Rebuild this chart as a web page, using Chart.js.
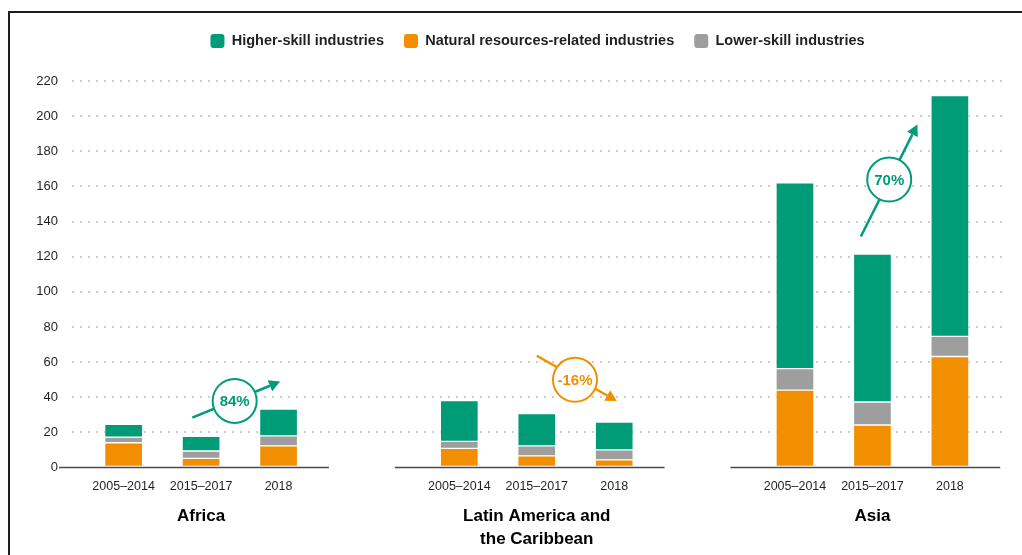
<!DOCTYPE html>
<html>
<head>
<meta charset="utf-8">
<script src="https://cdn.jsdelivr.net/npm/chart.js"></script>
<style>
  html, body { margin: 0; padding: 0; background: #fff; }
  #wrap { position: relative; width: 1022px; height: 555px; overflow: hidden; }
  #frame { position: absolute; left: 8px; top: 11px; right: -20px; bottom: -20px;
           border-top: 2px solid #1e1e1e; border-left: 2px solid #1e1e1e; }
  #wrap canvas { position: absolute; left: 0; top: 0; }
</style>
</head>
<body>
<div id="wrap">
  <div id="frame"></div>
  <canvas id="skillChart"></canvas>
</div>
<script>
const periods = ['2005–2014', '2015–2017', '2018'];
const regions = ['Africa', ['Latin America and', 'the Caribbean'], 'Asia'];

// one value per bar: Africa x3, Latin America x3, Asia x3
const naturalResources = [14.1, 5.2, 12.3, 10.9, 6.6, 4.3, 44.0, 24.2, 63.2];
const lowerSkill = [3.1, 4.2, 5.7, 4.0, 5.7, 5.7, 12.3, 13.1, 11.4];
const higherSkill = [7.4, 8.4, 15.2, 23.2, 18.4, 15.9, 105.7, 84.2, 137.1];

const yMax = 220;
const yStep = 20;

// change between 2015–2017 and 2018, one per region
const changeLabels = ['84%', '-16%', '70%'];

const GREEN = '#009b77';
const ORANGE = '#f18f00';
const GREY = '#9e9e9e';
const TEXT = '#231f20';
const FONT = '"Liberation Sans", Arial, sans-serif';

// x positions: 3 slots per bar, 13 per region
const barStep = 3;
const groupStep = 13;
const barX = [];
regions.forEach((r, g) => periods.forEach((p, i) => barX.push(g * groupStep + i * barStep)));
const regionX = regions.map((r, g) => g * groupStep + barStep);

// arrow + circle for each change label, in axis units
const changeMarks = [
  { color: GREEN, from: [2.66, 28.4], to: [6.06, 48.9], at: [4.30, 37.9] },
  { color: ORANGE, from: [16.0, 63.6], to: [19.1, 37.9], at: [17.48, 49.9] },
  { color: GREEN, from: [28.55, 131.5], to: [30.74, 195.2], at: [29.65, 163.9] }
];

function points(values) {
  return barX.map((x, i) => ({ x: x, y: values[i] }));
}

const groupBaselines = {
  id: 'groupBaselines',
  afterDatasetsDraw(chart) {
    const { ctx, scales: { x, y } } = chart;
    const y0 = y.getPixelForValue(0);
    ctx.save();
    ctx.strokeStyle = '#4a4a4a';
    ctx.lineWidth = 1.5;
    regions.forEach((r, g) => {
      ctx.beginPath();
      ctx.moveTo(x.getPixelForValue(g * groupStep - 2.5), y0);
      ctx.lineTo(x.getPixelForValue(g * groupStep + 2 * barStep + 1.95), y0);
      ctx.stroke();
    });
    ctx.restore();
  }
};

const changeArrows = {
  id: 'changeArrows',
  afterDatasetsDraw(chart) {
    const { ctx, scales: { x, y } } = chart;
    ctx.save();
    changeMarks.forEach((m, i) => {
      const x1 = x.getPixelForValue(m.from[0]), y1 = y.getPixelForValue(m.from[1]);
      const x2 = x.getPixelForValue(m.to[0]), y2 = y.getPixelForValue(m.to[1]);
      const a = Math.atan2(y2 - y1, x2 - x1);
      const head = 11;
      ctx.strokeStyle = m.color;
      ctx.fillStyle = m.color;
      ctx.lineWidth = 2.5;
      ctx.beginPath();
      ctx.moveTo(x1, y1);
      ctx.lineTo(x2 - Math.cos(a) * head, y2 - Math.sin(a) * head);
      ctx.stroke();
      ctx.beginPath();
      ctx.moveTo(x2, y2);
      ctx.lineTo(x2 - Math.cos(a) * head + Math.sin(a) * 6, y2 - Math.sin(a) * head - Math.cos(a) * 6);
      ctx.lineTo(x2 - Math.cos(a) * head - Math.sin(a) * 6, y2 - Math.sin(a) * head + Math.cos(a) * 6);
      ctx.closePath();
      ctx.fill();

      const cx = x.getPixelForValue(m.at[0]), cy = y.getPixelForValue(m.at[1]);
      ctx.beginPath();
      ctx.arc(cx, cy, 22, 0, Math.PI * 2);
      ctx.fillStyle = '#fff';
      ctx.fill();
      ctx.lineWidth = 2;
      ctx.stroke();
      ctx.fillStyle = m.color;
      ctx.font = 'bold 15px ' + FONT;
      ctx.textAlign = 'center';
      ctx.textBaseline = 'middle';
      ctx.fillText(changeLabels[i], cx, cy + 1);
    });
    ctx.restore();
  }
};

// more room under the legend, and nudge it right to sit over the plot
const legendPlace = {
  id: 'legendPlace',
  beforeInit(chart) {
    const fit = chart.legend.fit;
    chart.legend.fit = function () {
      fit.call(this);
      this.height += 22.75;
    };
  },
  afterLayout(chart) {
    chart.legend.left += 18.5;
    chart.legend.right += 18.5;
  }
};

const legendOrder = [2, 0, 1];

new Chart(document.getElementById('skillChart'), {
  type: 'bar',
  data: {
    datasets: [
      { label: 'Natural resources-related industries', data: points(naturalResources), backgroundColor: ORANGE },
      { label: 'Lower-skill industries', data: points(lowerSkill), backgroundColor: GREY },
      { label: 'Higher-skill industries', data: points(higherSkill), backgroundColor: GREEN }
    ]
  },
  options: {
    responsive: true,
    maintainAspectRatio: false,
    animation: false,
    layout: { padding: { top: 13.75, left: 30, right: 14, bottom: 0 } },
    datasets: {
      bar: {
        barThickness: 38,
        borderWidth: 1,
        borderSkipped: false,
        borderColor: 'rgba(255,255,255,0.55)'
      }
    },
    plugins: {
      tooltip: { enabled: false },
      legend: {
        position: 'top',
        labels: {
          boxWidth: 14,
          boxHeight: 14,
          useBorderRadius: true,
          borderRadius: 3,
          padding: 20,
          color: TEXT,
          font: { family: FONT, size: 14.5, weight: 'bold' },
          sort: (a, b) => legendOrder.indexOf(a.datasetIndex) - legendOrder.indexOf(b.datasetIndex),
          generateLabels(chart) {
            return Chart.defaults.plugins.legend.labels.generateLabels(chart).map(item => {
              item.lineWidth = 0;
              item.strokeStyle = item.fillStyle;
              return item;
            });
          }
        }
      }
    },
    scales: {
      x: {
        type: 'linear',
        position: 'bottom',
        stacked: true,
        offset: false,
        min: -2,
        max: 34.25,
        weight: 0,
        grid: { display: false, drawTicks: false },
        border: { display: false },
        afterBuildTicks(scale) { scale.ticks = barX.map(v => ({ value: v })); },
        afterFit(scale) { scale.height = 30; },
        ticks: {
          autoSkip: false,
          maxRotation: 0,
          minRotation: 0,
          padding: 11.5,
          color: TEXT,
          font: { family: FONT, size: 12.5 },
          callback: (v, i) => periods[i % periods.length]
        }
      },
      region: {
        type: 'linear',
        position: 'bottom',
        offset: false,
        min: -2,
        max: 34.25,
        weight: 1,
        grid: { display: false, drawTicks: false },
        border: { display: false },
        afterBuildTicks(scale) { scale.ticks = regionX.map(v => ({ value: v })); },
        afterFit(scale) { scale.height = 57.5; },
        ticks: {
          autoSkip: false,
          maxRotation: 0,
          minRotation: 0,
          padding: 7.5,
          color: '#000',
          font: { family: FONT, size: 17, weight: 'bold', lineHeight: 1.353 },
          callback: (v, i) => regions[i]
        }
      },
      y: {
        stacked: true,
        min: 0,
        max: yMax,
        afterFit(scale) { scale.width = 42; },
        border: { display: false, dash: [2, 6] },
        grid: {
          drawTicks: false,
          lineWidth: 2,
          color: ctx => ctx.tick && ctx.tick.value === 0 ? 'rgba(0,0,0,0)' : '#cccccc'
        },
        ticks: {
          stepSize: yStep,
          padding: 14,
          color: TEXT,
          font: { family: FONT, size: 13 }
        }
      }
    }
  },
  plugins: [legendPlace, groupBaselines, changeArrows]
});
</script>
</body>
</html>
